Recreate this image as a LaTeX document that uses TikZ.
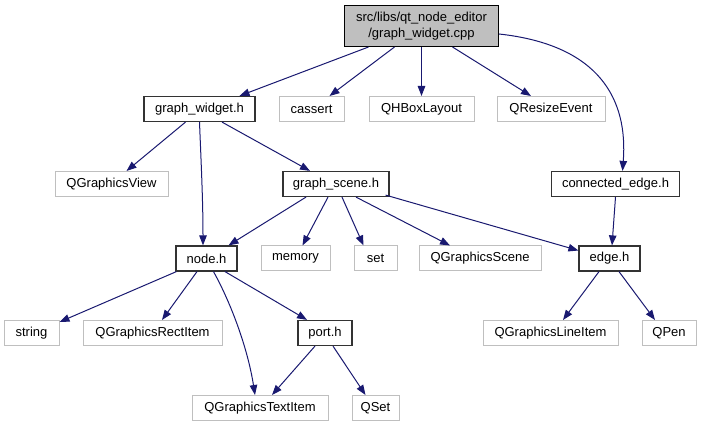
\documentclass[tikz,border=0pt]{standalone}
\usepackage{fontspec}
\setmainfont{Liberation Sans}
\usetikzlibrary{arrows.meta}
\definecolor{edgecol}{HTML}{191970}
\definecolor{graybox}{HTML}{BFBFBF}
\tikzset{
  base/.style={rectangle, minimum height=25pt, inner sep=0pt, font=\fontsize{13}{15.5}\selectfont, line width=1pt},
  hdr/.style={base, draw=black!80, line width=1.2pt},
  ext/.style={base, draw=graybox},
  conn/.style={draw=edgecol, line width=1pt, -{Triangle[length=10pt,width=7.5pt]}}
}
\begin{document}
\begin{tikzpicture}[x=1pt,y=-1pt]
\useasboundingbox (0,0) rectangle (701,427);
\node[base, draw=black, fill=graybox, minimum width=154pt, minimum height=41pt, align=center] (root) at (421.5,26) {src/libs/qt\_node\_editor\\/graph\_widget.cpp};
\node[hdr, minimum width=111pt] (gw) at (199.5,109) {graph\_widget.h};
\node[ext, minimum width=65pt] (cassert) at (311.5,109) {cassert};
\node[ext, minimum width=105pt] (qhb) at (421.5,109) {QHBoxLayout};
\node[ext, minimum width=108pt] (qre) at (551,109) {QResizeEvent};
\node[hdr, minimum width=128pt] (ce) at (615.5,184) {connected\_edge.h};
\node[ext, minimum width=113pt] (qgv) at (111.5,184) {QGraphicsView};
\node[hdr, minimum width=106pt] (gs) at (336,184) {graph\_scene.h};
\node[hdr, minimum width=61pt] (nodeh) at (206.5,258.5) {node.h};
\node[ext, minimum width=69pt] (memory) at (295.5,258.5) {memory};
\node[ext, minimum width=43pt] (set) at (375.5,258.5) {set};
\node[ext, minimum width=122pt] (qgs) at (480,258.5) {QGraphicsScene};
\node[hdr, minimum width=61pt] (edgeh) at (609.5,258.5) {edge.h};
\node[ext, minimum width=55pt] (string) at (31.5,333) {string};
\node[ext, minimum width=139pt] (qgri) at (152.5,333) {QGraphicsRectItem};
\node[hdr, minimum width=54pt] (port) at (325,333) {port.h};
\node[ext, minimum width=135pt] (qgli) at (550.5,333) {QGraphicsLineItem};
\node[ext, minimum width=54pt] (qpen) at (669,333) {QPen};
\node[ext, minimum width=136pt] (qgti) at (260,408) {QGraphicsTextItem};
\node[ext, minimum width=47pt] (qset) at (375.5,408) {QSet};

\draw[conn] ([xshift=-53pt]root.south) -- ([xshift=40pt]gw.north);
\draw[conn] ([xshift=-27pt]root.south) -- ([xshift=18pt]cassert.north);
\draw[conn] (root.south) -- (qhb.north);
\draw[conn] ([xshift=31pt]root.south) -- ([xshift=-20pt]qre.north);
\draw[conn] ([yshift=-8pt]root.east) .. controls (600,45) and (628,100) .. ([xshift=7pt]ce.north);
\draw[conn] ([xshift=-14pt]gw.south) -- ([xshift=15pt]qgv.north);
\draw[conn] (gw.south) .. controls (201,160) and (203,200) .. ([xshift=-3.5pt]nodeh.north);
\draw[conn] ([xshift=22.5pt]gw.south) -- ([xshift=-26pt]gs.north);
\draw[conn] ([xshift=-30pt]gs.south) -- ([xshift=22pt]nodeh.north);
\draw[conn] ([xshift=-8pt]gs.south) -- ([xshift=7pt]memory.north);
\draw[conn] ([xshift=6pt]gs.south) -- ([xshift=-12pt]set.north);
\draw[conn] ([xshift=20pt]gs.south) -- ([xshift=-30pt]qgs.north);
\draw[conn] ([xshift=-4pt,yshift=2pt]gs.south east) -- ([yshift=8pt]edgeh.west);
\draw[conn] (ce.south) -- ([xshift=2.5pt]edgeh.north);
\draw[conn] ([xshift=1pt]nodeh.south west) -- ([yshift=-2pt]string.north east);
\draw[conn] ([xshift=-9.5pt]nodeh.south) -- ([xshift=9.5pt]qgri.north);
\draw[conn] ([xshift=7pt]nodeh.south) .. controls (232,305) and (248,350) .. ([xshift=-5pt]qgti.north);
\draw[conn] ([xshift=18.5pt]nodeh.south) -- ([xshift=-18pt]port.north);
\draw[conn] ([xshift=-10pt]port.south) -- ([xshift=12pt]qgti.north);
\draw[conn] ([xshift=8pt]port.south) -- ([xshift=-10pt]qset.north);
\draw[conn] ([xshift=-10.5pt]edgeh.south) -- ([xshift=12.5pt]qgli.north);
\draw[conn] ([xshift=9.5pt]edgeh.south) -- ([xshift=-14pt]qpen.north);
\end{tikzpicture}
\end{document}
